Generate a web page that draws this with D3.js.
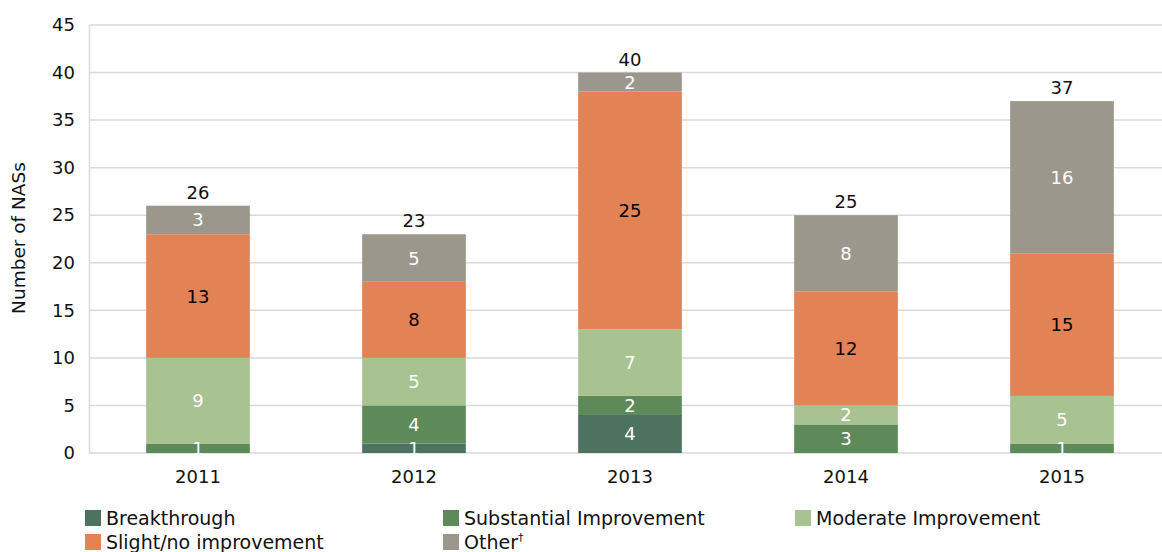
<!DOCTYPE html>
<html><head><meta charset="utf-8">
<script src="https://cdn.jsdelivr.net/npm/d3@7"></script>
<style>body{margin:0;background:#fff}svg text{font-family:"DejaVu Sans",Roboto,sans-serif}</style>
</head><body><svg id="c" width="1162" height="552"></svg>
<script>
const years = ["2011","2012","2013","2014","2015"];
const seriesNames = ["Breakthrough","Substantial Improvement","Moderate Improvement","Slight/no improvement","Other"];
const breakthrough = [0,1,4,0,0];
const substantial = [1,4,2,3,1];
const moderate = [9,5,7,2,5];
const slight = [13,8,25,12,15];
const other = [3,5,2,8,16];
const yTicks = [0,5,10,15,20,25,30,35,40,45];
const colors = ["#4d7260","#5e8a5a","#a8c292","#e28255","#9b978d"];
const labelColors = ["#fff","#fff","#fff","#000","#fff"];

const seriesVals = [breakthrough, substantial, moderate, slight, other];
const rows = years.map((y,i)=>{const o={year:y}; seriesNames.forEach((s,k)=>o[s]=seriesVals[k][i]); return o;});
const stack = d3.stack().keys(seriesNames)(rows);

const svg = d3.select("#c");
const x = d3.scaleBand().domain(years).range([90,1170]).paddingInner(0.52).paddingOuter(0.26);
const y = d3.scaleLinear().domain([0,45]).range([453,25]);

svg.append("g").selectAll("line").data(yTicks).join("line")
  .attr("x1",90).attr("x2",1162).attr("y1",d=>y(d)).attr("y2",d=>y(d))
  .attr("stroke","#d9d9d9").attr("stroke-width",1.5);
svg.append("line").attr("x1",89.5).attr("x2",89.5).attr("y1",y(45)).attr("y2",y(0)+1)
  .attr("stroke","#d9d9d9").attr("stroke-width",1.5);

const yAxis = svg.append("g").attr("transform","translate(90,0)")
  .call(d3.axisLeft(y).tickValues(yTicks).tickSize(0).tickPadding(15));
yAxis.select(".domain").remove();
yAxis.selectAll("text").attr("font-size",18).attr("fill","#111");

const xAxis = svg.append("g").attr("transform","translate(0,453)")
  .call(d3.axisBottom(x).tickSize(0).tickPadding(17));
xAxis.select(".domain").remove();
xAxis.selectAll("text").attr("font-size",18).attr("fill","#111");

svg.append("text").attr("transform","translate(25,238) rotate(-90)")
  .attr("text-anchor","middle").attr("font-size",18.5).attr("fill","#111").text("Number of NASs");

const g = svg.append("g");
stack.forEach((layer,k)=>{
  g.append("g").selectAll("rect").data(layer).join("rect")
    .attr("x",d=>x(d.data.year)).attr("width",x.bandwidth())
    .attr("y",d=>y(d[1])).attr("height",d=>y(d[0])-y(d[1]))
    .attr("fill",colors[k]);
});
stack.forEach((layer,k)=>{
  g.append("g").selectAll("text").data(layer.filter(d=>d[1]-d[0]>0)).join("text")
    .attr("x",d=>x(d.data.year)+x.bandwidth()/2).attr("y",d=>y((d[0]+d[1])/2))
    .attr("dy","0.36em").attr("text-anchor","middle").attr("font-size",18)
    .attr("fill",labelColors[k]).text(d=>d[1]-d[0]);
});
const totals = rows.map((r,i)=>({year:r.year,t:d3.sum(seriesVals,s=>s[i])}));
g.append("g").selectAll("text").data(totals).join("text")
  .attr("x",d=>x(d.year)+x.bandwidth()/2).attr("y",d=>y(d.t)-7)
  .attr("text-anchor","middle").attr("font-size",18).attr("fill","#111").text(d=>d.t);

const legPos = [[85,518],[443,518],[795,518],[85,542],[443,542]];
const leg = svg.append("g");
seriesNames.forEach((s,k)=>{
  const [lx,ly]=legPos[k];
  leg.append("rect").attr("x",lx).attr("y",ly-8).attr("width",16).attr("height",16).attr("fill",colors[k]);
  const t = leg.append("text").attr("x",lx+21).attr("y",ly).attr("dy","0.36em").attr("font-size",19).attr("fill","#111").text(s);
  if (k===4) t.append("tspan").attr("font-size",11).attr("dy","-0.7em").text("\u2020");
});
</script></body></html>
